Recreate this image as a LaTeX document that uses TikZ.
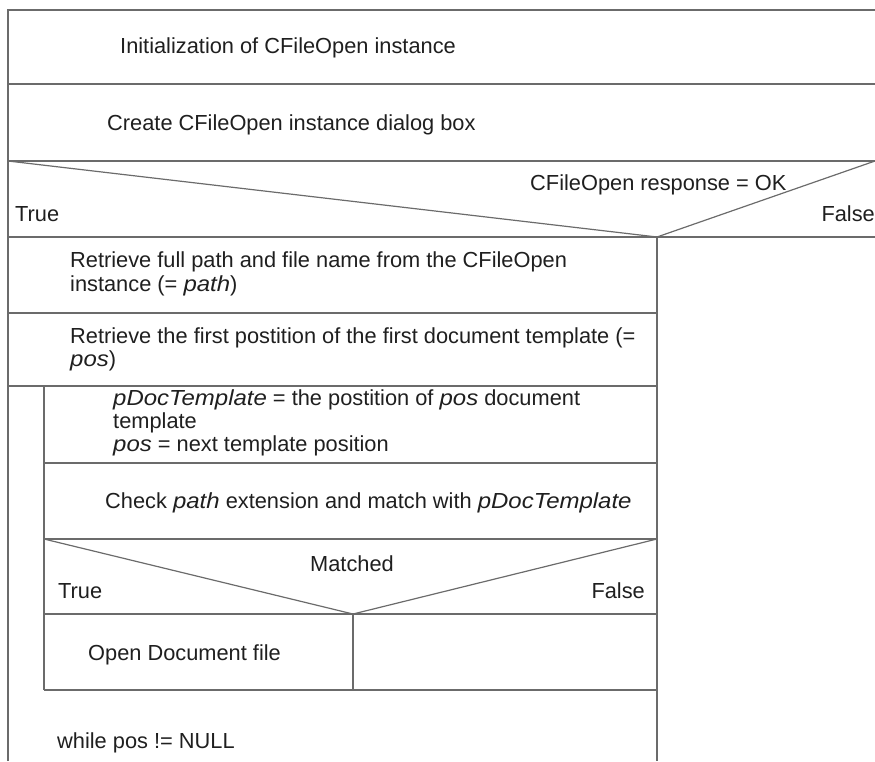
\documentclass[tikz,border=0pt]{standalone}
\usepackage{fontspec}
\setmainfont{Liberation Sans}[ItalicFeatures={FakeStretch=1.1}]
\begin{document}
\begin{tikzpicture}[x=1pt,y=-1pt,
  rule/.style={draw=black!58,line width=1.2pt},
  lbl/.style={anchor=base west,inner sep=0pt,text=black!88,font=\fontsize{21.8}{23.5}\selectfont},
  lblr/.style={lbl,anchor=base east},
  lblc/.style={lbl,anchor=base}]
\useasboundingbox (0,0) rectangle (875,761);

% frame and top-level sequence
\coordinate (tl) at (8,10);
\draw[rule] (8,761) -- (tl) -- (875,10);
\draw[rule] (8,84) -- (875,84);
\draw[rule] (8,161) -- (875,161);
\draw[rule] (8,237) -- (875,237);

% outer decision: CFileOpen response
\coordinate (d1l) at (8,161);
\coordinate (d1r) at (875,161);
\coordinate (d1a) at (657,237);
\draw[rule] (d1l) -- (d1a) -- (d1r);
\draw[rule] (d1a) -- (657,761);

% True branch sequence
\draw[rule] (8,313) -- (657,313);
\draw[rule] (8,386) -- (657,386);

% loop body
\draw[rule] (44,386) -- (44,690);
\draw[rule] (44,463) -- (657,463);
\draw[rule] (44,539) -- (657,539);

% inner decision: Matched
\coordinate (d2l) at (44,539);
\coordinate (d2r) at (657,539);
\coordinate (d2a) at (353,614);
\draw[rule] (d2l) -- (d2a) -- (d2r);
\draw[rule] (44,614) -- (657,614);
\draw[rule] (d2a) -- (353,690);
\draw[rule] (44,690) -- (657,690);

% texts
\node[lbl] (init) at (120,53) {Initialization of CFileOpen instance};
\node[lbl] (create) at (107,130) {Create CFileOpen instance dialog box};
\node[lbl] (cond1) at (530,190) {CFileOpen response = OK};
\node[lbl] (t1) at (15,221) {True};
\node[lblr] (f1) at (875,221) {False};
\node[lbl] (ret1) at (70,267) {Retrieve full path and file name from the CFileOpen};
\node[lbl] (ret1b) at (70,291) {instance (= \textit{path})};
\node[lbl] (ret2) at (70,343) {Retrieve the first postition of the first document template (=};
\node[lbl] (ret2b) at (70,366) {\textit{pos})};
\node[lbl] (pdoc) at (113,405) {\textit{pDocTemplate} = the postition of \textit{pos} document};
\node[lbl] (pdocb) at (113,428) {template};
\node[lbl] (pdocc) at (113,451) {\textit{pos} = next template position};
\node[lbl] (check) at (105,508) {Check \textit{path} extension and match with \textit{pDocTemplate}};
\node[lblc] (cond2) at (352,571) {Matched};
\node[lbl] (t2) at (58,598) {True};
\node[lblr] (f2) at (645,598) {False};
\node[lbl] (open) at (88,660) {Open Document file};
\node[lbl] (loop) at (57,748) {while pos != NULL};
\end{tikzpicture}
\end{document}
